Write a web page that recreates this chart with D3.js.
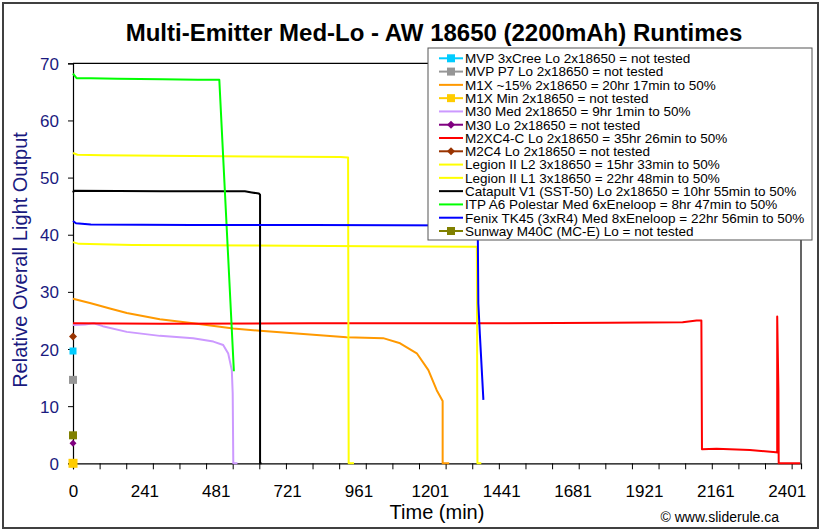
<!DOCTYPE html>
<html>
<head>
<meta charset="utf-8">
<script src="https://cdn.jsdelivr.net/npm/d3@7"></script>
<style>
  body { margin: 0; background: #fff; }
  svg text { font-family: "Liberation Sans", Arial, sans-serif; }
</style>
</head>
<body>
<div id="chart"></div>
<script>
// runtime traces, [time (min), relative output]
var m1x15 = [[0,28.8],[60,28.0],[124,27.1],[181,26.3],[292,25.2],[404,24.5],[539,23.6],[629,23.2],[741,22.75],[920,22.05],[1043,21.9],[1100,21.0],[1156,19.25],[1195,16.3],[1223,12.8],[1243,10.9],[1243,0],[1265,0]]
var m30Med = [[0,24.2],[40,24.3],[70,24.5],[100,24.0],[181,23.0],[292,22.3],[404,21.9],[472,21.3],[505,20.7],[522,19.2],[534,16.3],[537,12.2],[539,0],[553,0]]
var m2xc4c = [[0,24.5],[300,24.4],[800,24.5],[1400,24.5],[1800,24.6],[2050,24.7],[2097,25.0],[2113,25.0],[2115,2.45],[2164,2.56],[2276,2.33],[2364,1.92],[2368,1.9],[2368,25.7],[2372,12.8],[2373,0],[2445,0]]
var legionL2 = [[0,54.3],[15,54.0],[100,53.9],[300,53.8],[600,53.7],[900,53.6],[925,53.5],[927,0],[945,0]]
var legionL1 = [[0,38.7],[20,38.4],[200,38.2],[600,38.1],[1000,38.0],[1358,37.9],[1360,0],[1373,0]]
var catapult = [[0,47.4],[3,47.7],[300,47.6],[578,47.6],[601,47.4],[625,47.2],[629,47.0],[629,0],[634,0]]
var itpA6 = [[0,68.2],[6,67.8],[12,67.4],[60,67.4],[150,67.3],[300,67.2],[420,67.1],[492,67.1],[541,16.1]]
var fenixTK45 = [[0,42.4],[10,42.0],[60,41.8],[400,41.7],[800,41.7],[1361,41.6],[1363,28],[1368,22.7],[1380,11.1]]

// single points for lights that were not tested
var mvp3xCree = 19.65
var mvpP7 = 14.6
var m1xMin = 0
var m30Lo = 3.5
var m2c4Lo = 22.2
var sunwayM40C = 4.9

var legendLabels = [
  "MVP 3xCree Lo 2x18650 = not tested",
  "MVP P7 Lo 2x18650 = not tested",
  "M1X ~15% 2x18650 = 20hr 17min  to 50%",
  "M1X Min 2x18650 = not tested",
  "M30 Med 2x18650 = 9hr 1min to 50%",
  "M30 Lo 2x18650 = not tested",
  "M2XC4-C Lo 2x18650 = 35hr 26min to 50%",
  "M2C4 Lo 2x18650 = not tested",
  "Legion II L2 3x18650 = 15hr 33min to 50%",
  "Legion II L1 3x18650 = 22hr 48min to 50%",
  "Catapult V1 (SST-50) Lo 2x18650 = 10hr 55min to 50%",
  "ITP A6 Polestar Med 6xEneloop = 8hr 47min to 50%",
  "Fenix TK45 (3xR4) Med 8xEneloop = 22hr 56min to 50%",
  "Sunway M40C (MC-E) Lo = not tested"
]
var xLabelValues = [0, 240, 480, 720, 960, 1200, 1440, 1680, 1920, 2160, 2400]
var xLabels = ["0", "241", "481", "721", "961", "1201", "1441", "1681", "1921", "2161", "2401"]
var yTicks = [0, 10, 20, 30, 40, 50, 60, 70]

var width = 823
var height = 532

var series = [
  { name: legendLabels[0], color: "#00ccff", marker: "square", point: mvp3xCree, size: 7 },
  { name: legendLabels[1], color: "#969696", marker: "square", point: mvpP7, size: 8 },
  { name: legendLabels[2], color: "#ff9900", data: m1x15 },
  { name: legendLabels[3], color: "#ffcc00", marker: "square", point: m1xMin, size: 9 },
  { name: legendLabels[4], color: "#cc99ff", data: m30Med },
  { name: legendLabels[5], color: "#800080", marker: "diamond", point: m30Lo, size: 6 },
  { name: legendLabels[6], color: "#ff0000", data: m2xc4c },
  { name: legendLabels[7], color: "#993300", marker: "diamond", point: m2c4Lo, size: 7 },
  { name: legendLabels[8], color: "#ffff00", data: legionL2 },
  { name: legendLabels[9], color: "#ffff00", data: legionL1 },
  { name: legendLabels[10], color: "#000000", data: catapult },
  { name: legendLabels[11], color: "#00ff00", data: itpA6 },
  { name: legendLabels[12], color: "#0000ff", data: fenixTK45 },
  { name: legendLabels[13], color: "#808000", marker: "square", point: sunwayM40C, size: 8 }
]

var svg = d3.select("#chart")
    .append("svg")
    .attr("width", width)
    .attr("height", height)

// outer frame
svg.append("rect")
    .attr("x", 3).attr("y", 3)
    .attr("width", 815).attr("height", 525)
    .attr("fill", "#fff")
    .attr("stroke", "#404040")
    .attr("stroke-width", 2)

var x = d3.scaleLinear().domain([0, 2448]).range([73, 801])
var y = d3.scaleLinear().domain([0, 70]).range([463.3, 63.3])

// plot area border (top and right)
svg.append("path")
    .attr("d", "M" + x(0) + "," + y(70) + "H" + x(2448) + "V" + y(0))
    .attr("fill", "none")
    .attr("stroke", "#000")
    .attr("stroke-width", 1.2)

// minor tick marks on x
svg.append("g")
    .attr("transform", "translate(0," + y(0) + ")")
    .call(d3.axisBottom(x).tickValues(d3.range(0, 2440, 89.5)).tickSize(6).tickFormat(""))
    .call(function(g) {
        g.select(".domain").attr("stroke", "#000").attr("stroke-width", 1.2)
        g.selectAll(".tick line").attr("stroke", "#000")
    })

// x labels
svg.append("g")
    .attr("transform", "translate(0," + y(0) + ")")
    .call(d3.axisBottom(x).tickValues(xLabelValues).tickSize(0).tickPadding(22)
        .tickFormat(function(d, i) { return xLabels[i] }))
    .call(function(g) {
        g.select(".domain").remove()
        g.selectAll("text").attr("font-size", 17).attr("fill", "#000")
            .attr("font-family", "Liberation Sans, Arial, sans-serif")
    })

// y axis
svg.append("g")
    .attr("transform", "translate(" + x(0) + ",0)")
    .call(d3.axisLeft(y).tickValues(yTicks).tickSize(5).tickPadding(9))
    .call(function(g) {
        g.select(".domain").attr("stroke", "#000").attr("stroke-width", 1.2)
        g.selectAll(".tick line").attr("stroke", "#000")
        g.selectAll("text").attr("font-size", 17).attr("fill", "#1a1a80")
            .attr("font-family", "Liberation Sans, Arial, sans-serif")
            .attr("dy", "0.36em")
    })

// lines
var line = d3.line()
    .x(function(d) { return x(d[0]) })
    .y(function(d) { return y(d[1]) })

svg.append("g")
    .selectAll("path")
    .data(series.filter(function(s) { return s.data }))
    .enter()
    .append("path")
    .attr("d", function(s) { return line(s.data) })
    .attr("fill", "none")
    .attr("stroke", function(s) { return s.color })
    .attr("stroke-width", 2)
    .attr("stroke-linejoin", "round")

// single markers at time 0
function drawMarker(sel, s, cx, cy) {
    if (s.marker == "square") {
        sel.append("rect")
            .attr("x", cx - s.size / 2).attr("y", cy - s.size / 2)
            .attr("width", s.size).attr("height", s.size)
            .attr("fill", s.color)
    } else {
        var r = s.size / 2 + 0.5
        sel.append("path")
            .attr("d", "M" + cx + "," + (cy - r) + "L" + (cx + r) + "," + cy + "L" + cx + "," + (cy + r) + "L" + (cx - r) + "," + cy + "Z")
            .attr("fill", s.color)
    }
}
var markers = svg.append("g")
series.filter(function(s) { return s.marker }).forEach(function(s) {
    drawMarker(markers, s, x(0), y(s.point))
})

// legend
var legend = svg.append("g")
legend.append("rect")
    .attr("x", 428).attr("y", 48)
    .attr("width", 384).attr("height", 192)
    .attr("fill", "#fff")
    .attr("stroke", "#555")
    .attr("stroke-width", 1)

var rowY = d3.scaleLinear().domain([0, 13]).range([58.3, 231])
series.forEach(function(s, i) {
    var ly = rowY(i)
    legend.append("line")
        .attr("x1", 439).attr("x2", 463)
        .attr("y1", ly).attr("y2", ly)
        .attr("stroke", s.color)
        .attr("stroke-width", 2)
    if (s.marker) drawMarker(legend, { marker: s.marker, color: s.color, size: s.marker == "square" ? 8 : 7 }, 451, ly)
    legend.append("text")
        .attr("x", 465).attr("y", ly)
        .attr("dy", "0.36em")
        .attr("font-size", 13.5)
        .attr("fill", "#000")
        .text(s.name)
})

// titles
svg.append("text")
    .attr("x", 434).attr("y", 41)
    .attr("text-anchor", "middle")
    .attr("font-size", 24)
    .attr("font-weight", "bold")
    .text("Multi-Emitter Med-Lo - AW 18650 (2200mAh) Runtimes")

svg.append("text")
    .attr("x", 437).attr("y", 519)
    .attr("text-anchor", "middle")
    .attr("font-size", 20)
    .text("Time (min)")

svg.append("text")
    .attr("transform", "translate(27,260) rotate(-90)")
    .attr("text-anchor", "middle")
    .attr("font-size", 20)
    .attr("fill", "#1a1a80")
    .text("Relative Overall Light Output")

svg.append("text")
    .attr("x", 779).attr("y", 522)
    .attr("text-anchor", "end")
    .attr("font-size", 14)
    .text("© www.sliderule.ca")
</script>
</body>
</html>
